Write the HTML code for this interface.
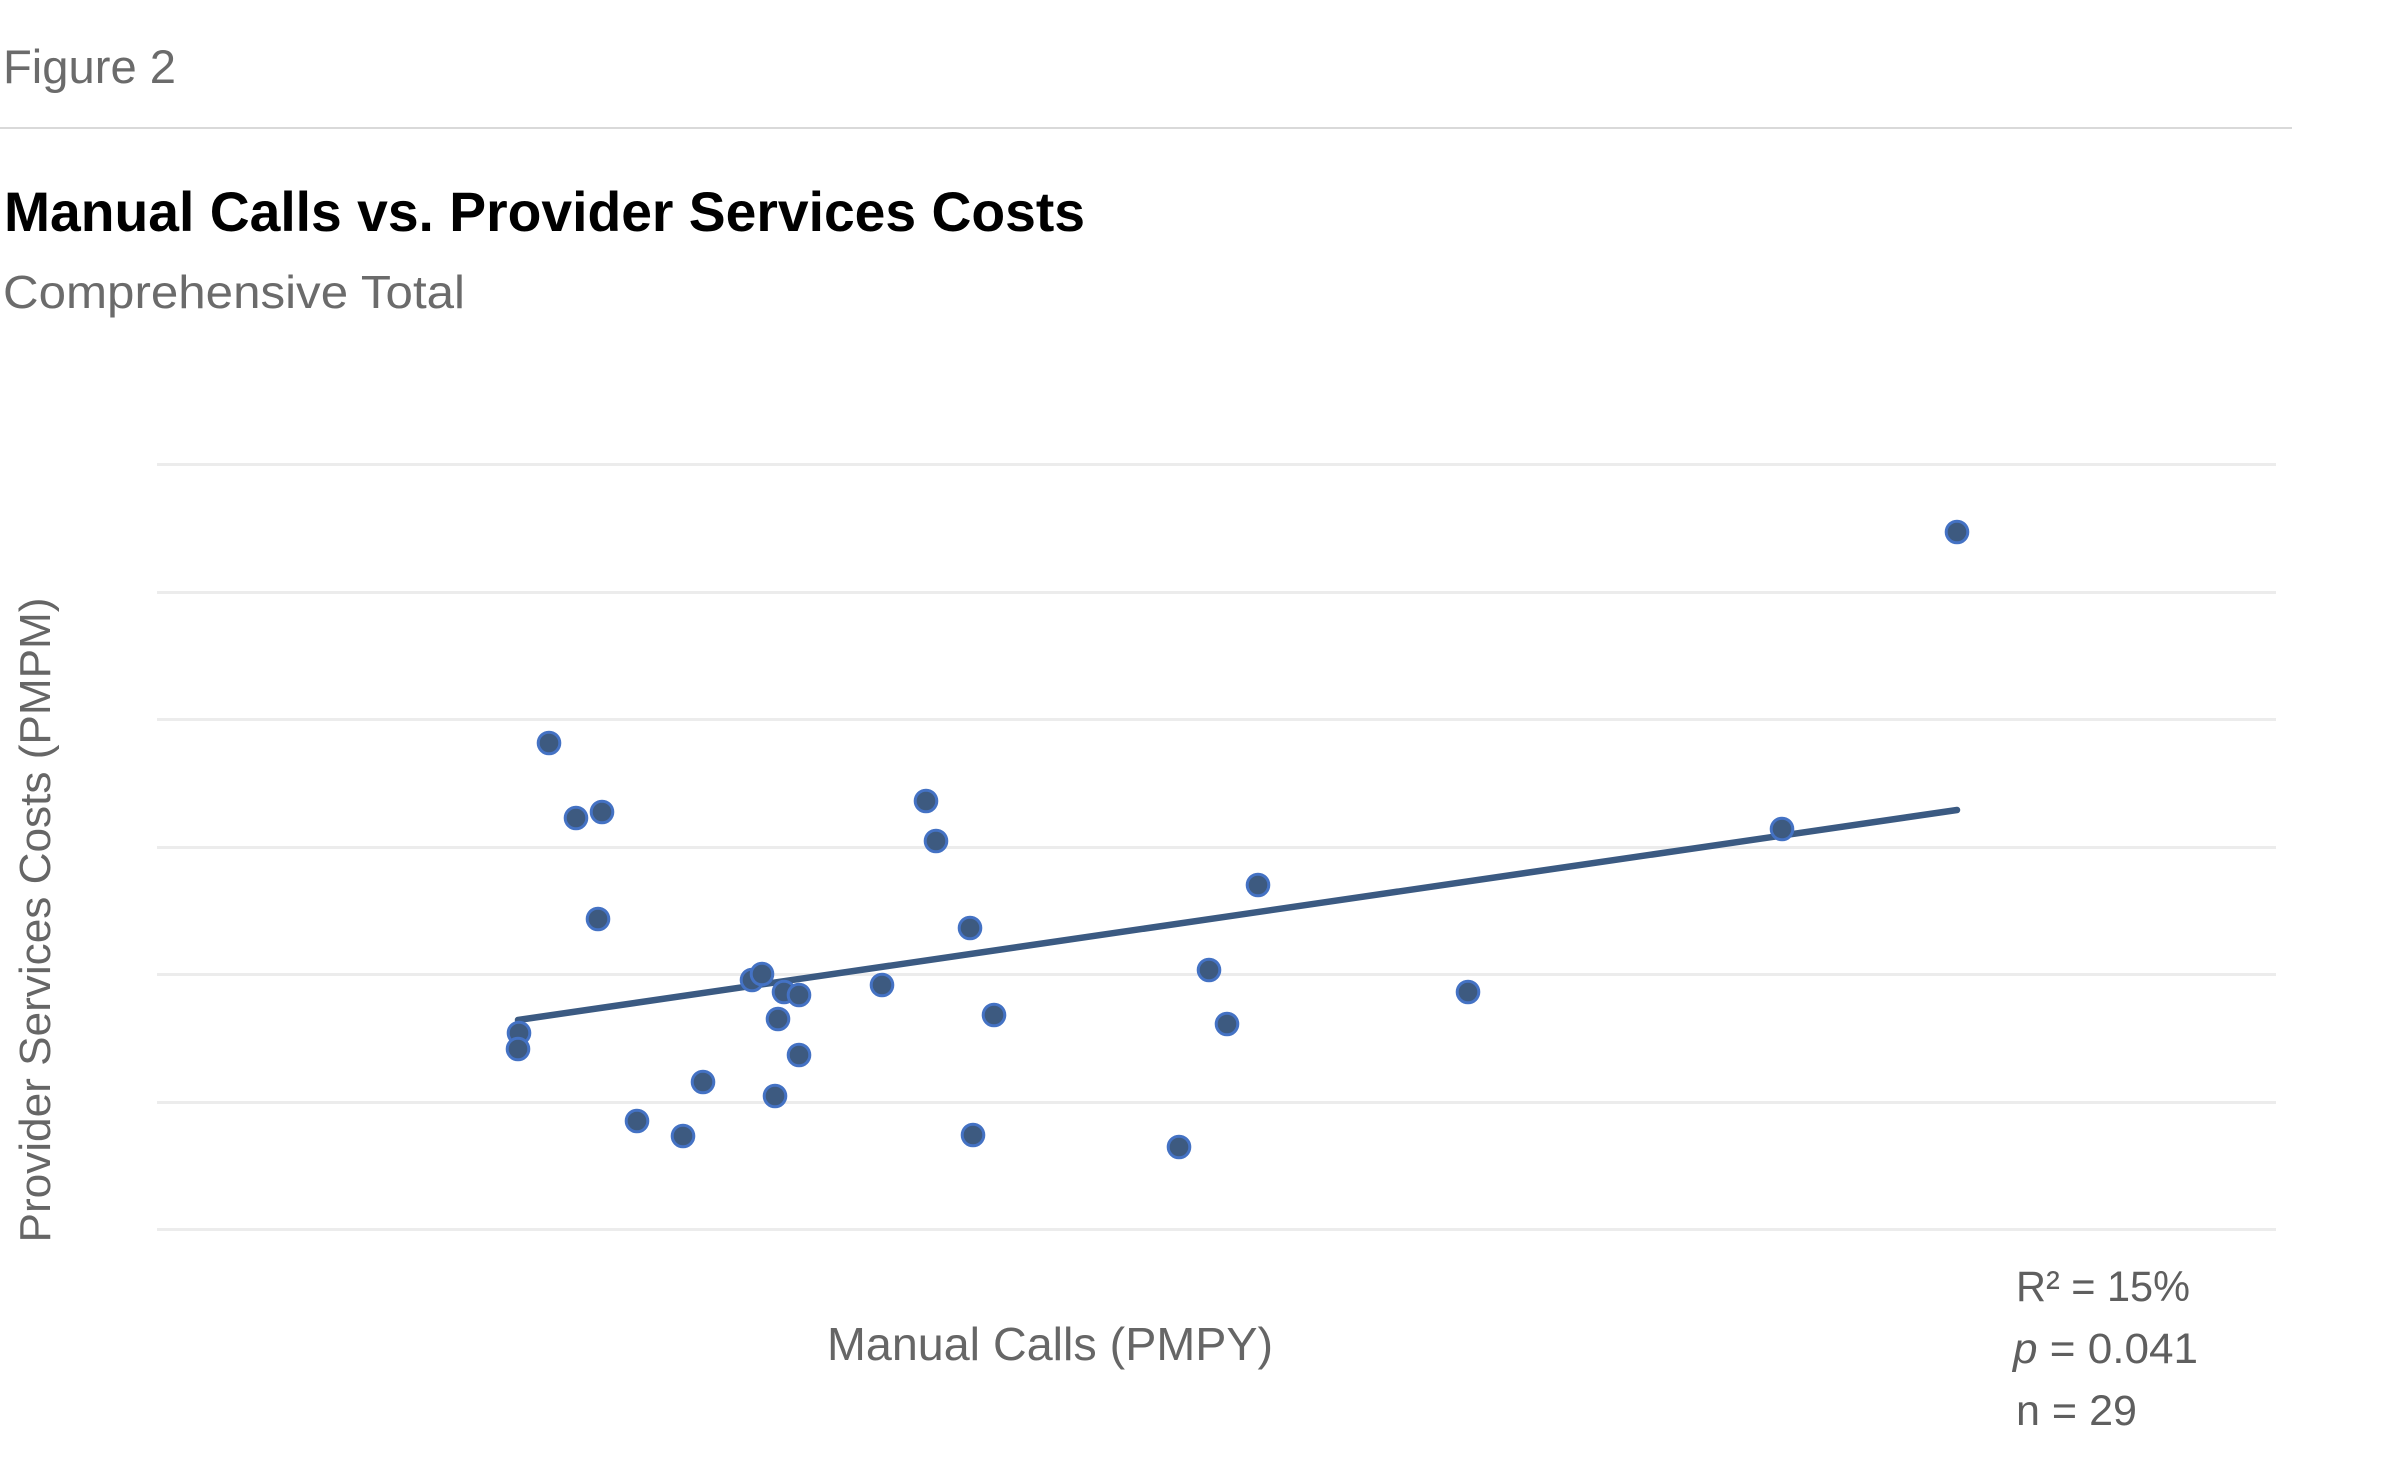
<!DOCTYPE html>
<html>
<head>
<meta charset="utf-8">
<style>
  html, body { margin: 0; padding: 0; background: #ffffff; }
  body { width: 2381px; height: 1480px; overflow: hidden; }
  svg { display: block; }
  text { font-family: "Liberation Sans", "DejaVu Sans", sans-serif; }
</style>
</head>
<body>
<svg width="2381" height="1480" viewBox="0 0 2381 1480" xmlns="http://www.w3.org/2000/svg">
  <rect x="0" y="0" width="2381" height="1480" fill="#ffffff"/>

  <!-- Header -->
  <text x="3" y="83" font-size="47" fill="#6b6b6b" textLength="173" lengthAdjust="spacingAndGlyphs">Figure 2</text>
  <rect x="0" y="127" width="2292" height="2" fill="#d9d9d9"/>
  <text x="4" y="231" font-size="56" font-weight="bold" fill="#000000" textLength="1081" lengthAdjust="spacingAndGlyphs">Manual Calls vs. Provider Services Costs</text>
  <text x="3" y="308" font-size="46" fill="#6b6b6b" textLength="462" lengthAdjust="spacingAndGlyphs">Comprehensive Total</text>

  <!-- Gridlines -->
  <g fill="#ececec">
    <rect x="157" y="463" width="2119" height="3"/>
    <rect x="157" y="591" width="2119" height="3"/>
    <rect x="157" y="718" width="2119" height="3"/>
    <rect x="157" y="846" width="2119" height="3"/>
    <rect x="157" y="973" width="2119" height="3"/>
    <rect x="157" y="1101" width="2119" height="3"/>
    <rect x="157" y="1228" width="2119" height="3"/>
  </g>

  <!-- Axis titles -->
  <text x="0" y="0" font-size="44" fill="#666666" text-anchor="middle" textLength="645" lengthAdjust="spacingAndGlyphs" transform="translate(50,920) rotate(-90)">Provider Services Costs (PMPM)</text>
  <text x="1050" y="1360" font-size="46" fill="#666666" text-anchor="middle" textLength="446" lengthAdjust="spacingAndGlyphs">Manual Calls (PMPY)</text>

  <!-- Trend line -->
  <line x1="518" y1="1020" x2="1957" y2="810" stroke="#3b5a82" stroke-width="6.5" stroke-linecap="round"/>

  <!-- Points -->
  <g fill="#3d5a80" stroke="#4472c4" stroke-width="3">
    <circle cx="1957" cy="532" r="10.8"/>
    <circle cx="549" cy="743" r="10.8"/>
    <circle cx="576" cy="818" r="10.8"/>
    <circle cx="602" cy="812" r="10.8"/>
    <circle cx="598" cy="919" r="10.8"/>
    <circle cx="926" cy="801" r="10.8"/>
    <circle cx="936" cy="841" r="10.8"/>
    <circle cx="1258" cy="885" r="10.8"/>
    <circle cx="1782" cy="829" r="10.8"/>
    <circle cx="970" cy="928" r="10.8"/>
    <circle cx="1209" cy="970" r="10.8"/>
    <circle cx="1468" cy="992" r="10.8"/>
    <circle cx="1227" cy="1024" r="10.8"/>
    <circle cx="994" cy="1015" r="10.8"/>
    <circle cx="882" cy="985" r="10.8"/>
    <circle cx="752" cy="980" r="10.8"/>
    <circle cx="762" cy="974" r="10.8"/>
    <circle cx="784" cy="992" r="10.8"/>
    <circle cx="799" cy="995" r="10.8"/>
    <circle cx="778" cy="1019" r="10.8"/>
    <circle cx="799" cy="1055" r="10.8"/>
    <circle cx="703" cy="1082" r="10.8"/>
    <circle cx="775" cy="1096" r="10.8"/>
    <circle cx="637" cy="1121" r="10.8"/>
    <circle cx="683" cy="1136" r="10.8"/>
    <circle cx="973" cy="1135" r="10.8"/>
    <circle cx="1179" cy="1147" r="10.8"/>
    <circle cx="519" cy="1033" r="10.8"/>
    <circle cx="518" cy="1049" r="10.8"/>
  </g>

  <!-- Stats -->
  <g font-size="43" fill="#5f5f5f">
    <text x="2016" y="1301" textLength="174" lengthAdjust="spacingAndGlyphs">R² = 15%</text>
    <text x="2013" y="1363" textLength="185" lengthAdjust="spacingAndGlyphs"><tspan font-style="italic">p</tspan> = 0.041</text>
    <text x="2016" y="1425" textLength="121" lengthAdjust="spacingAndGlyphs">n = 29</text>
  </g>
</svg>
</body>
</html>
